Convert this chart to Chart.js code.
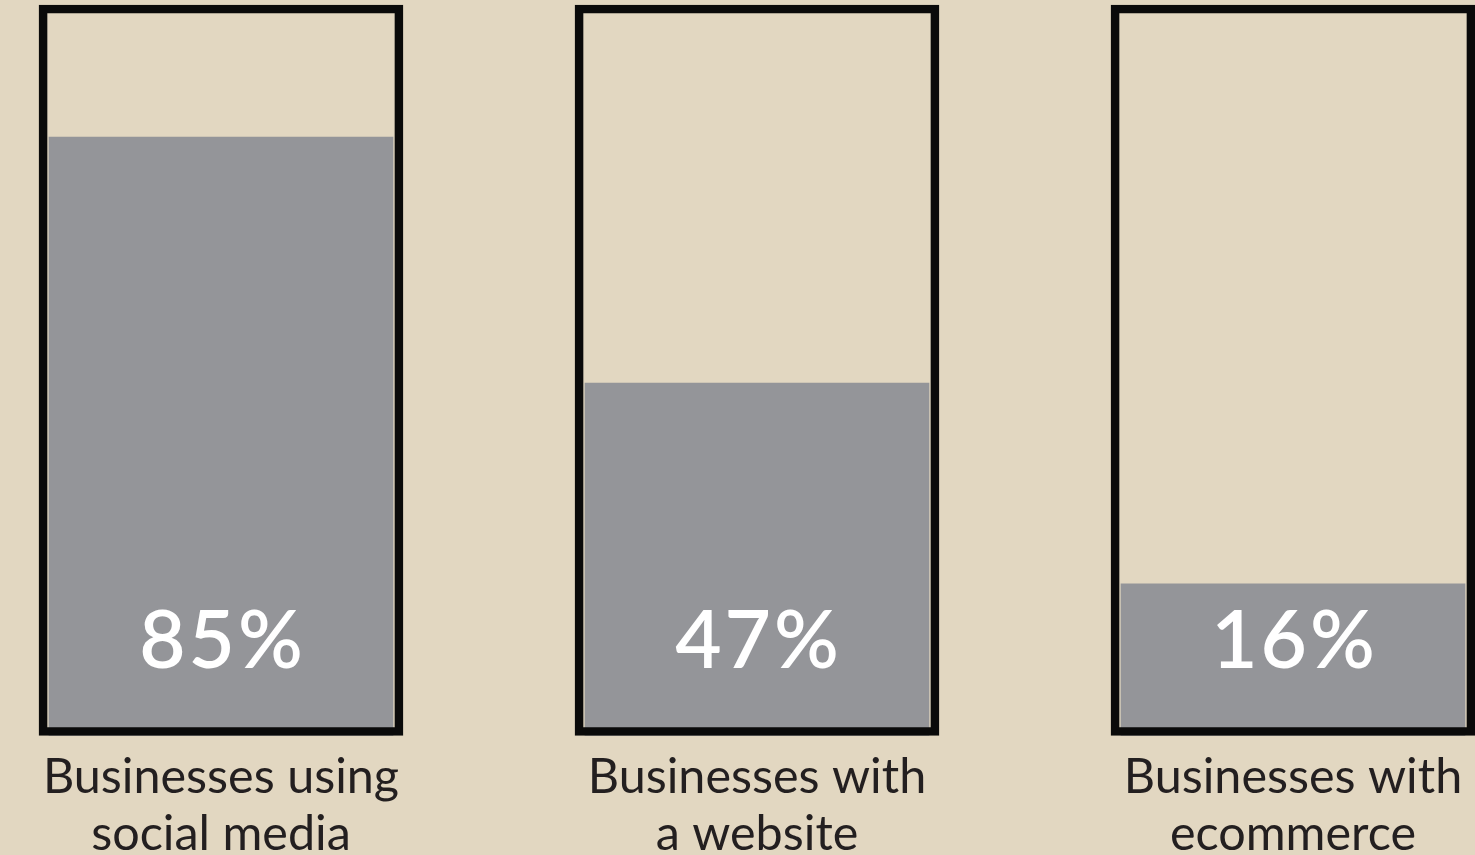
<!DOCTYPE html>
<html>
<head>
<meta charset="utf-8">
<script src="https://cdn.jsdelivr.net/npm/chart.js@4"></script>
<style>
  html, body { margin: 0; padding: 0; background: #E2D7C1; overflow: hidden; }
  #contenedor { width: 1475px; height: 855px; overflow: hidden; }
  #grafica { display: block; }
</style>
</head>
<body>
<div id="contenedor"><canvas id="grafica" width="1475" height="880"></canvas></div>
<script>
// Datos de la gráfica
const categorias = [['Businesses using', 'social media'], ['Businesses with', 'a website'], ['Businesses with', 'ecommerce']];
const porcentajes = [85, 47, 16];

// Rango del eje Y (el marco ocupa todo el rango)
const ejeMin = -7.4;
const ejeMax = 105.4;
const marcos = [ejeMax, ejeMax, ejeMax];

// Plugin para escribir el porcentaje dentro de cada barra
const etiquetasPorcentaje = {
    id: 'etiquetasPorcentaje',
    afterDatasetsDraw(chart) {
        const ctx = chart.ctx;
        const meta = chart.getDatasetMeta(1);
        ctx.save();
        ctx.fillStyle = '#FFFFFF';
        ctx.font = '600 80px Lato';
        ctx.letterSpacing = '3px';
        ctx.textAlign = 'center';
        ctx.textBaseline = 'alphabetic';
        meta.data.forEach((barra, i) => {
            ctx.fillText(porcentajes[i] + '%', barra.x + 1.5, chart.chartArea.bottom - 67);
        });
        ctx.restore();
    }
};

function crearGrafica() {
    const ctx = document.getElementById('grafica').getContext('2d');

    new Chart(ctx, {
        type: 'bar',
        data: {
            labels: categorias,
            datasets: [{
                label: 'Marco',
                data: marcos,
                base: ejeMin,
                backgroundColor: 'rgba(0,0,0,0)',
                borderColor: '#0A0A0A',
                borderWidth: 8,
                borderSkipped: false,
                barThickness: 364,
                clip: false
            }, {
                label: 'Porcentaje',
                data: porcentajes,
                base: ejeMin,
                backgroundColor: '#949599',
                borderWidth: 0,
                barThickness: 344,
                clip: false
            }]
        },
        options: {
            responsive: false,
            animation: false,
            layout: {
                padding: { top: 5, bottom: 4, left: 221, right: 182 }
            },
            plugins: {
                legend: { display: false },
                tooltip: { enabled: false }
            },
            scales: {
                x: {
                    stacked: true,
                    offset: false,
                    grid: { display: false, drawTicks: false },
                    border: { display: false },
                    ticks: {
                        color: '#231F20',
                        font: { family: 'Lato', size: 48.5, lineHeight: 1.16 },
                        padding: 14,
                        maxRotation: 0,
                        autoSkip: false
                    },
                    afterFit: (escala) => {
                        // El margen lo marca layout.padding, no el ancho de las etiquetas
                        escala.paddingLeft = 0;
                        escala.paddingRight = 0;
                    }
                },
                y: {
                    display: false,
                    min: ejeMin,
                    max: ejeMax
                }
            }
        },
        plugins: [etiquetasPorcentaje]
    });
}

document.addEventListener('DOMContentLoaded', () => {
    crearGrafica();
});
</script>
</body>
</html>
